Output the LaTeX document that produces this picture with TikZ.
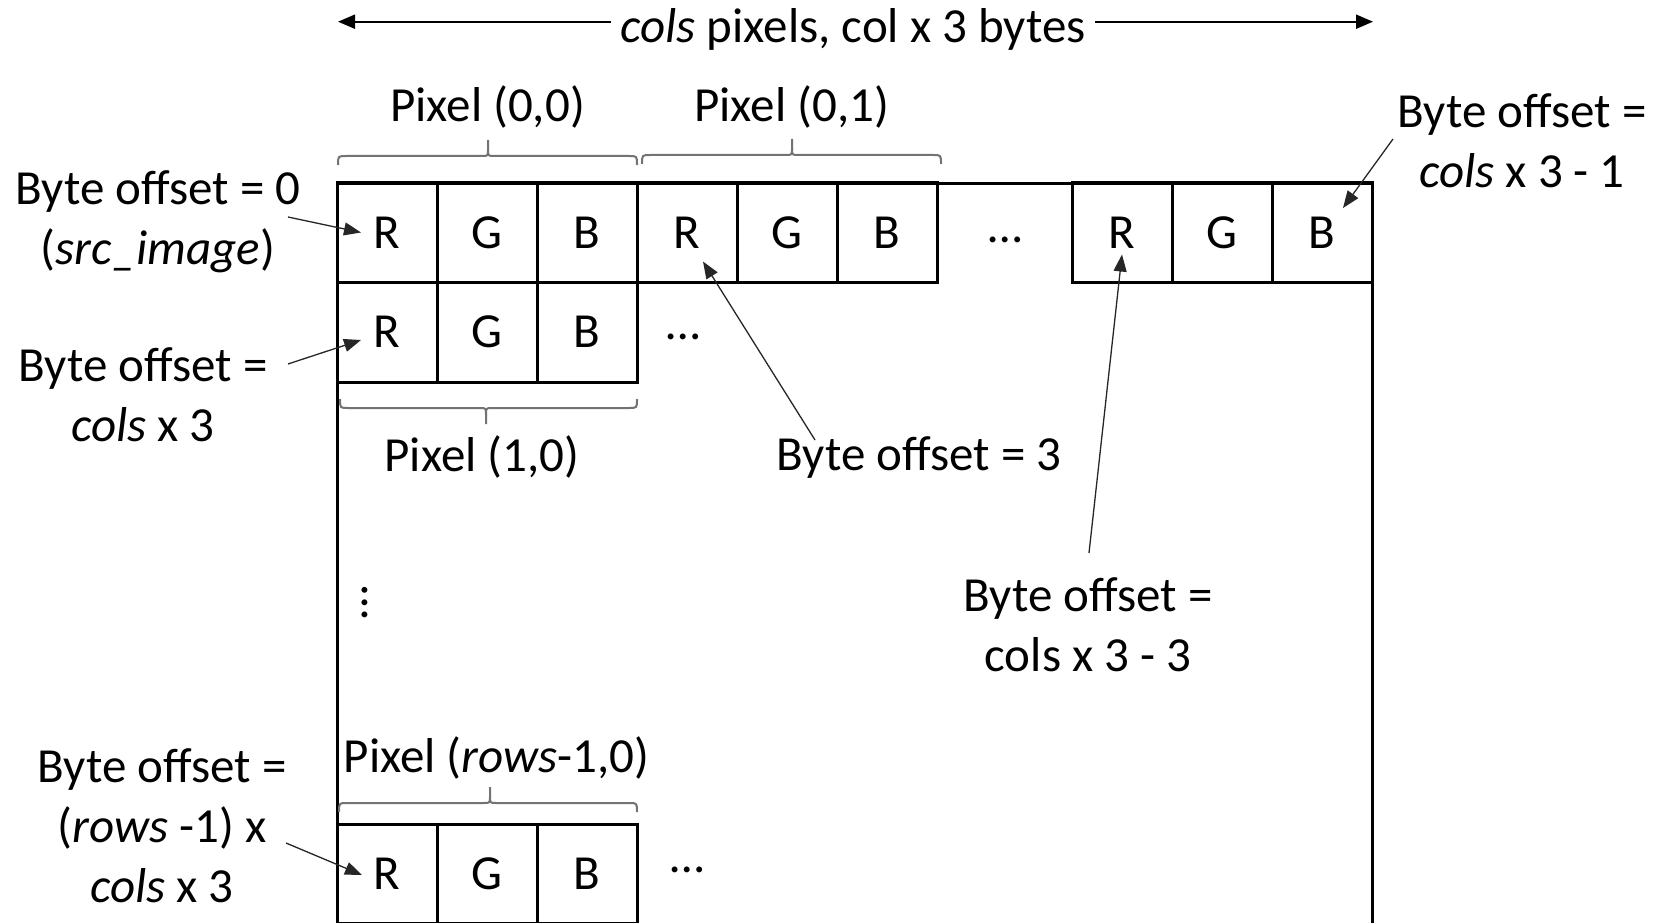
\documentclass[tikz,border=0pt]{standalone}
\usepackage{fontspec}
\setmainfont{Carlito}
\usetikzlibrary{arrows.meta}
\newcommand{\hbrace}[5]{%
  \draw[bracestyle] ({#1},{#4+(#5)*9}) .. controls ({#1},{#4}) .. ({#1+8},{#4}) -- ({#3-6},{#4}) .. controls ({#3},{#4}) .. ({#3},{#4-(#5)*7}) -- ({#3},{#4-(#5)*16});
  \draw[bracestyle] ({#3},{#4-(#5)*7}) .. controls ({#3},{#4}) .. ({#3+6},{#4}) -- ({#2-8},{#4}) .. controls ({#2},{#4}) .. ({#2},{#4+(#5)*9});}
\begin{document}
\begin{tikzpicture}[x=1pt,y=-1pt,
  every node/.style={font=\fontsize{49}{60}\selectfont, inner sep=0pt, outer sep=0pt},
  cell/.style={draw, line width=3pt, minimum width=100pt, minimum height=100pt},
  lbl/.style={anchor=base, align=center},
  arr/.style={line width=1.3pt, draw=black!85, -{Triangle[length=17pt,width=13pt]}},
  toparr/.style={line width=2pt, -{Triangle[length=17pt,width=14pt]}},
  bracestyle/.style={line width=2pt, draw=black!55}]
\useasboundingbox (0,0) rectangle (1673,923);
% frame
\draw[line width=3pt] (337,923) -- (337,183) -- (1372,183) -- (1372,923);
% row 0
\node[cell] (c00) at (387,232.5) {R};
\node[cell] (c01) at (487,232.5) {G};
\node[cell] (c02) at (587,232.5) {B};
\node[cell] (c03) at (687,232.5) {R};
\node[cell] (c04) at (787,232.5) {G};
\node[cell] (c05) at (887,232.5) {B};
\node (d0) at (1005,240) {…};
\node[cell] (c0a) at (1122,232.5) {R};
\node[cell] (c0b) at (1222,232.5) {G};
\node[cell] (c0c) at (1322,232.5) {B};
% row 1
\node[cell] (c10) at (387,332) {R};
\node[cell] (c11) at (487,332) {G};
\node[cell] (c12) at (587,332) {B};
\node (d1) at (683,337) {…};
% vertical dots
\node[rotate=90] (dv) at (365,603) {…};
% last row
\node[cell, minimum height=99pt] (c20) at (387,873.5) {R};
\node[cell, minimum height=99pt] (c21) at (487,873.5) {G};
\node[cell, minimum height=99pt] (c22) at (587,873.5) {B};
\node (d2) at (687,870) {…};
% braces
\hbrace{338}{637}{488}{156}{1}
\hbrace{642}{941}{792}{155}{1}
\hbrace{340}{637}{486}{408}{-1}
\hbrace{339}{637}{490}{803}{1}
% pixel labels
\node[lbl] (p00) at (487.5,121.7) {Pixel (0,0)};
\node[lbl] (p01) at (791.7,121.7) {Pixel (0,1)};
\node[lbl] (p10) at (482,471.7) {Pixel (1,0)};
\node[lbl] (pr0) at (496.5,772.3) {Pixel (\textit{rows}-1,0)};
% top dimension
\node[anchor=base, inner xsep=9pt] (toptext) at (853,43) {\textit{cols} pixels, col x 3 bytes};
\coordinate (tl) at (338,21.7);
\coordinate (tr) at (1373,21.7);
\draw[toparr] (toptext.west |- tl) -- (tl);
\draw[toparr] (toptext.east |- tr) -- (tr);
% offset labels (base = last line)
\node[lbl] (l0) at (158,264) {Byte offset = 0\\(\textit{src\_image})};
\node[lbl] (l1) at (143,441.7) {Byte offset =\\\textit{cols} x 3};
\node[lbl] (l2) at (162,902) {Byte offset =\\(\textit{rows} -1) x\\\textit{cols} x 3};
\node[lbl] (l3) at (919,470) {Byte offset = 3};
\node[lbl] (l4) at (1088,671) {Byte offset =\\cols x 3 - 3};
\node[lbl] (l5) at (1522,187) {Byte offset =\\\textit{cols} x 3 - 1};
% arrows
\coordinate (s0) at (288,217);
\coordinate (s1) at (288,364);
\coordinate (s2) at (286,843);
\coordinate (s3) at (815,440);
\coordinate (s4) at (1089,553);
\coordinate (s5) at (1393,139);
\draw[arr] (s0) -- ([xshift=-26pt]c00.center);
\draw[arr] (s1) -- ([xshift=-26pt,yshift=-8pt]c10.center);
\draw[arr] (s2) -- ([xshift=-25pt,yshift=-1.5pt]c20.center);
\draw[arr] (s3) -- ([xshift=16pt,yshift=-29pt]c03.center);
\draw[arr] (s4) -- ([yshift=-22pt]c0a.center);
\draw[arr] (s5) -- ([xshift=21pt,yshift=24.5pt]c0c.center);
\end{tikzpicture}
\end{document}
